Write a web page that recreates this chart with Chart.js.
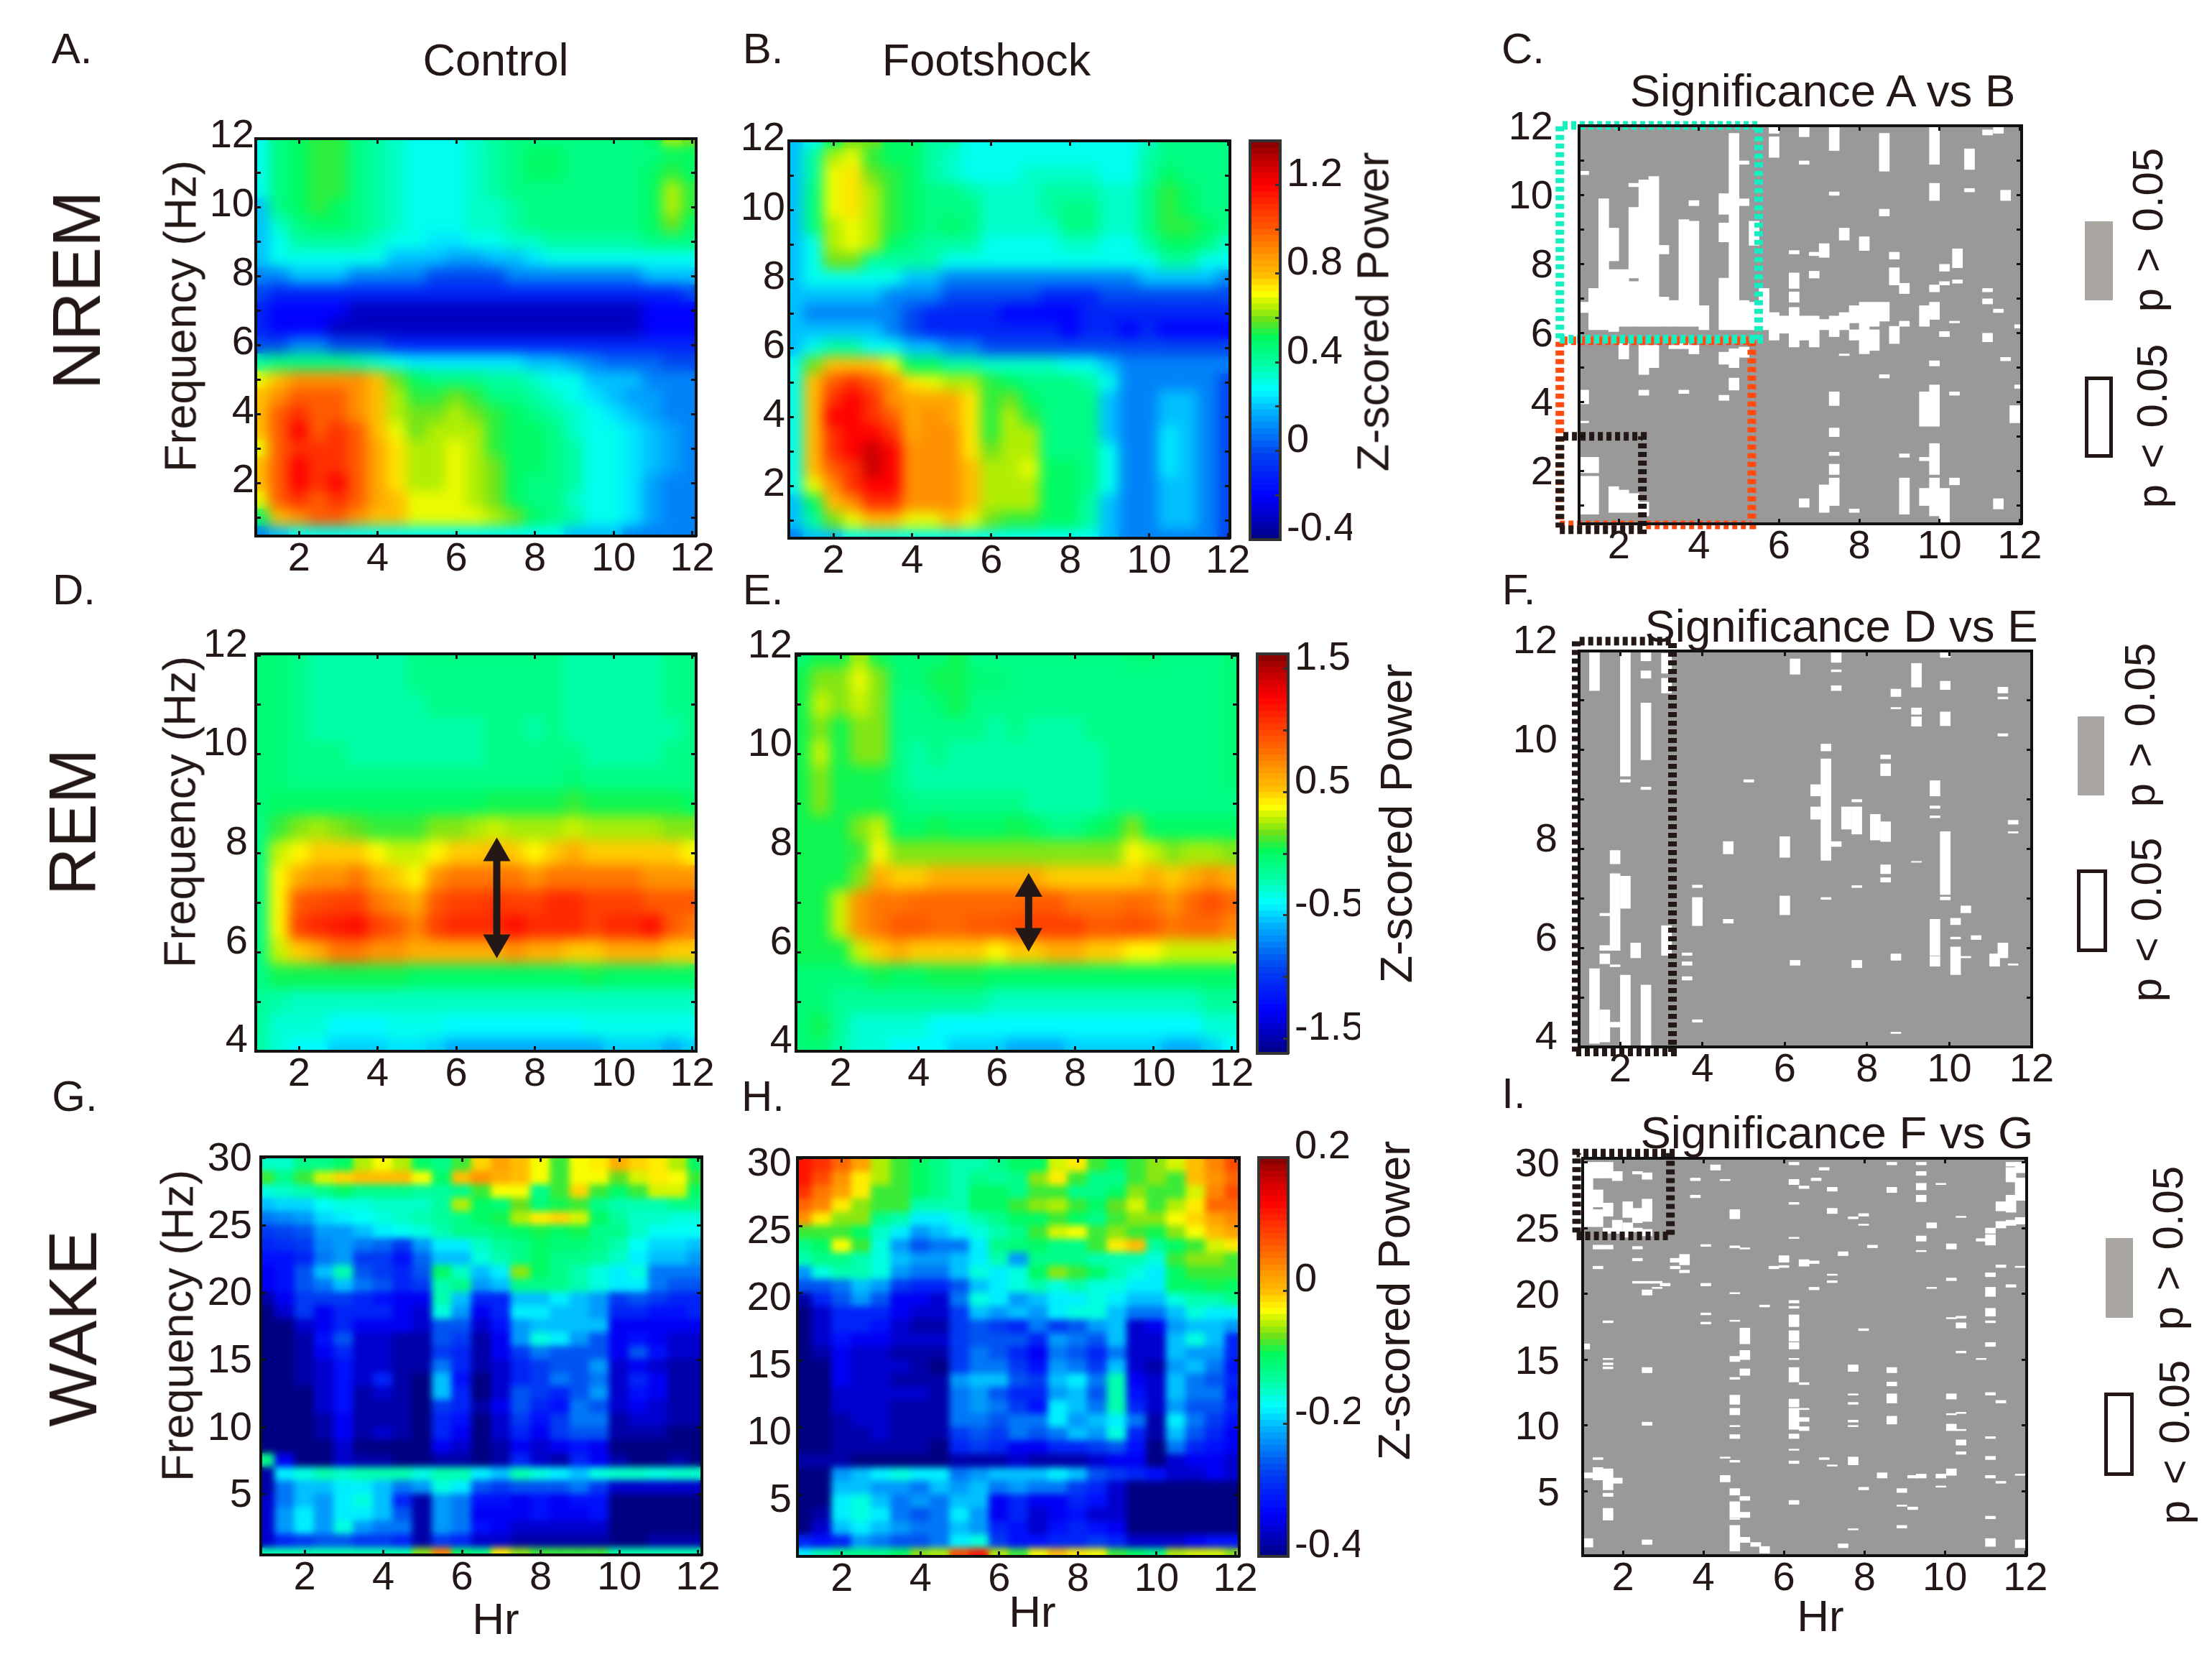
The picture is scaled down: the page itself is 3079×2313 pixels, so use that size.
<!DOCTYPE html>
<html>
<head>
<meta charset="utf-8">
<title>Z-scored power by vigilance state</title>
<script src="https://cdn.jsdelivr.net/npm/chart.js@4/dist/chart.umd.min.js"></script>
<style>
  html, body { margin: 0; background: #fff; }
  #page { position: relative; width: 3079px; height: 2313px; overflow: hidden; font-family: "Liberation Sans", Arial, sans-serif; color: #231815; }
  canvas { position: absolute; }
  .txt { position: absolute; white-space: pre; line-height: 1; transform: translate(-50%, -50%); }
  .rot { transform: translate(-50%, -50%) rotate(-90deg); }
  .key { position: absolute; box-sizing: border-box; }
</style>
</head>
<body>
<div id="page"></div>
<script>
// Axis positions of the cells
const hours = [1,1.5,2,2.5,3,3.5,4,4.5,5,5.5,6,6.5,7,7.5,8,8.5,9,9.5,10,10.5,11,11.5,12];
const nremFreqs = [12,11.5,11,10.5,10,9.5,9,8.5,8,7.5,7,6.5,6,5.5,5,4.5,4,3.5,3,2.5,2,1.5,1,0.5];
const remFreqs = [12,11.5,11,10.5,10,9.5,9,8.5,8,7.5,7,6.5,6,5.5,5,4.5,4];
const wakeFreqs = [29.5,28.5,27.5,26.5,25.5,24.5,23.5,22.5,21.5,20.5,19.5,18.5,17.5,16.5,15.5,14.5,13.5,12.5,11.5,10.5,9.5,8.5,7.5,6.5,5.5,4.5,3.5,2.5,1.5,0.5];

// Tick labels
const hourTicks = [2,4,6,8,10,12];
const nremLabels = [2,4,6,8,10,12];
const nremMarks = [1,2,3,4,5,6,7,8,9,10,11,12];
const remLabels = [4,6,8,10,12];
const remMarks = [4,5,6,7,8,9,10,11,12];
const wakeLabels = [5,10,15,20,25,30];
const nremBarTicks = [-0.4,0,0.4,0.8,1.2];
const nremBarMarks = [-0.4,-0.2,0,0.2,0.4,0.6,0.8,1,1.2];
const remBarTicks = [-1.5,-0.5,0.5,1.5];
const remBarMarks = [-1.5,-1,-0.5,0,0.5,1,1.5];
const wakeBarTicks = [-0.4,-0.2,0,0.2];
const wakeBarMarks = [-0.4,-0.2,0,0.2];

// Colour scale: position, r, g, b
const colorStops = [
[0,0,0,130],[0.11,0,0,255],[0.22,0,70,240],[0.325,0,180,255],[0.378,0,255,255],[0.437,0,255,170],[0.51,0,250,90],
[0.55,100,225,30],[0.589,190,240,0],[0.62,255,255,0],[0.665,255,190,0],[0.727,255,140,0],[0.78,255,90,0],
[0.845,255,40,0],[0.89,255,0,0],[0.957,190,0,0],[1,130,0,0]];

// NREM control, z x 10, rows from 12 Hz down
const nremControl = [
[3,4.5,5,5.5,5.5,4.5,4,3.5,3,3,3,3.5,4,4.5,4.5,4.5,4.5,4.5,4.5,4.5,5,6.5,6],
[3,4.5,5,5.5,5.5,4.5,4,3.5,3,3,3,3.5,4,4.5,5,5,4.5,4.5,4.5,4.5,4.5,5,5],
[3,4.5,5,5.5,5.5,4.5,4,3.5,3,3,3,3.5,4,4.5,5,5,4.5,4.5,4.5,4.5,5,5.5,5],
[3,4.5,5,5.5,5.5,4.5,4,3.5,3,3,3,3.5,4,4.5,4.5,4.5,4.5,4.5,4.5,4.5,5,6.5,5.5],
[2,4.5,5,5.5,5,4.5,4,3.5,3,3,3,3.5,3.5,4,4.5,4.5,4.5,4.5,4.5,4.5,5,6.5,5.5],
[2,3.5,4.5,5,5,4.5,4,3.5,3,3,3,3.5,3.5,4,4.5,4.5,4.5,4.5,4.5,4.5,5,6,5],
[2,3,4,4,4,4,3.5,3,3,2.5,2.5,3,3,3.5,3.5,4,4,4,4,4,4.5,4.5,4.5],
[2,3,3,3,3,3,3,2,2,2,1.5,1.5,2,2,2.5,3,3,3,3,3,3,3,3],
[1,1,2,2,2,1,1,1,1,0,0,0,0,1,1,1,1,1,1,1,2,2,2],
[0,-1,-1,-1,-1,-1,-1,-1,-1,-1,-1,-1,-1,-1,-1,-1,-1,-1,-1,-1,-1,-1,0],
[-1,-2,-2,-2,-2,-3,-3,-3,-3,-3,-3,-3,-3,-3,-3,-3,-3,-3,-3,-3,-2,-2,-2],
[-1,-2,-2,-2,-3,-3,-3,-3,-3,-3,-3,-3,-3,-3,-3,-3,-3,-3,-3,-3,-2,-2,-2],
[0,0,1,1,0,0,0,-1,-1,-1,-1,-1,-1,-1,-1,-1,-1,-1,-1,-1,-1,-1,-1],
[4,4.5,4.5,4.5,4.5,4,3.5,3,2.5,2.5,2.5,2.5,2.5,2.5,2,2,1.5,1,0.5,0.5,0.5,0,0],
[7,8,9,9,9,9,8,6,5,4.5,4.5,4.5,4,4,3.5,3,3,2,2,2,1,1,1],
[8,9,10,10,10,9,8,6.5,5.5,5.5,6,5.5,4.5,4.5,4,3.5,3,2.5,2,1.5,1.5,1,1],
[8,10,11,10,10,9,8,6.5,6,6,6.5,6,5.5,5,4.5,4,3.5,3,2.5,2,1.5,1,1],
[8,10,12,10,11,10,8,7,6,6.5,6.5,6.5,5.5,5,5,4.5,3.5,3,3,2.5,2,1.5,1],
[7,10,11,11,11,10,8.5,7.5,6.5,6.5,7,6.5,5.5,5,5,4.5,4,3,3,2.5,2,1.5,1],
[8,10,12,11,11,10,8.5,7.5,6.5,6.5,7,6.5,6,5,5,4.5,4,3,3,2.5,2,1.5,1],
[8,10,12,11,12,10,8.5,7.5,6.5,6.5,7,6.5,6,5,4.5,4.5,4,3,3,2.5,1.5,1,1],
[7,10,11,10,11,10,8.5,8,7,7,7,6.5,6,5,4.5,4.5,3.5,3,3,2.5,1.5,1,1],
[5,8,9,10,10,9,8,8,7,7,7,7,6.5,6,5,4.5,4,3,3,2.5,1.5,1,1],
[1,2,3,3,3,3,3,3,3,3,3,3,3,3,3,3,2,2,2,1,1,1,1]];

// NREM footshock
const nremShock = [
[2,3,5,6,6,5,5,4,4,3,3,3,3,3,3,3,3,3,3.5,4.5,4.5,4.5,4.5],
[2,4,6.5,7,5.5,5,5,4,3.5,3,3,3,3,3,3,3,3,3,4,4.5,4.5,4.5,4.5],
[2,4,7,7.5,6,5.5,5,4,3.5,3,3,3,3.5,3.5,3.5,3.5,3,3,4,5,4.5,4.5,4.5],
[2,4.5,7,7.5,6.5,5.5,5,4.5,4.5,4,3.5,3.5,3.5,4,4,4,3.5,3.5,4.5,5.5,5,4.5,4.5],
[2,4.5,7,7.5,6.5,5.5,5,4.5,4.5,4.5,3.5,3.5,3.5,4,4.5,4.5,3.5,3.5,4.5,5.5,5,4.5,4.5],
[2,4.5,6.5,7,6.5,5.5,5,4.5,5,4.5,3.5,3.5,3.5,3.5,4.5,4.5,3.5,3.5,4.5,5.5,5.5,5,4.5],
[2,3,6.5,7,6.5,5,4.5,4,4,4,3,3,3,3,3.5,3.5,3,3,4,5,5,4.5,3.5],
[2,3,6,6,4,4,4,4,3,3,3,3,3,3,3,3,3,3,3,4,4,3,3],
[2,3,3,3,3,3,2,2,1,1,1,1,1,1,1,1,1,1,2,2,2,2,1],
[2,2,2,2,2,1,1,1,0,0,0,0,0,-1,-1,-1,0,0,0,0,0,0,0],
[2,1,1,1,1,1,0,-1,-1,-1,-1,-2,-2,-2,-2,-1,-1,-1,-1,-1,-1,-1,-1],
[2,2,2,2,2,1,0,-1,-1,-1,-1,-1,-1,-1,-2,-1,-1,-2,-1,-2,-2,-2,-2],
[2,3,4,4,3,3,2,2,1,1,0,0,0,0,0,0,0,0,0,0,0,0,0],
[3,6,8,8,8,7,5,5,4,4,3.5,3.5,3.5,3.5,3,3,2,1,1,1,1,1,1],
[3,8,10,11,10,9,7.5,7,6.5,6.5,5.5,5,4.5,4.5,4.5,4,3,1,1,1,1,1,0],
[3,8,11,12,11,9,8.5,8.5,8.5,7.5,5.5,6,5,4.5,4.5,4.5,2,1,1,2,2,1,0],
[3,8,12,12,11,10,8.5,9,8.5,7.5,5.5,6.5,5.5,4.5,4.5,4.5,2,1,1,2,2,1,0],
[3,8,11,12,12,11,8.5,9,9,7.5,5.5,6.5,6.5,4.5,4.5,4.5,2,1,1,2.5,2,1,0],
[3,8,11,12,13,12,9,9,9,7.5,6,6.5,6.5,4.5,4.5,4.5,3,1,1,2.5,2,1,0],
[3,8,10,11,13,12,9,9,9,8,6.5,6.5,7,5,5,4.5,3,1,1,2.5,2,1,0],
[3,7,9,11,12,12,9,9,9,8,6.5,6.5,6.5,5,5,4.5,3,1,1,2,2,1,0],
[2,5,8,9,11,11,9,9,9,8,6.5,6.5,6.5,5,5,4,2,1,1,2,2,1,0],
[2,4,6,7,8,8,7,7,8,7,6,5.5,5.5,5,5,4,2,1,1,2,2,1,0],
[1,2,2,3,3,3,3,3,3,3,3,3,3,3,3,3,2,1,1,1,1,1,0]];

// REM control
const remControl = [
[-0.5,-0.5,-1,-2,-2,-2,-2,-2,-1,-1,-1,-1,-1,-1,-1,-1,-2,-2,-2,-2,-2,-1,-1],
[-0.5,-0.5,-1,-2,-2,-2,-2,-2,-1,-1,-1,-1,-1,-1,-1,-1,-2,-2,-2,-2,-2,-1,-1],
[-0.5,-0.5,-1,-2,-2,-2,-2,-2,-2,-1,-1,-1,-1,-1,-1,-1,-2,-2,-2,-2,-2,-1,-1],
[-0.5,-0.5,-1,-2,-2,-2,-2,-2,-2,-2,-2,-2,-1,-1,-2,-1,-2,-2,-2,-2,-2,-2,-1],
[-0.5,-0.5,-1,-1,-1,-2,-2,-2,-2,-2,-2,-2,-1,-1,-1,-1,-1,-2,-2,-2,-2,-1,-1],
[-0.5,-0.5,-1,-1,-1,-1,-1,-1,-1,-1,-1,-1,-1,-1,-1,-1,-0.5,-1,-1,-1,-1,-1,-1],
[-0.5,0,0,0,0,0,0,0,0,0,0,0,0.5,0.5,0.5,0.5,1,0.5,0.5,0.5,0.5,0.5,0],
[-1,1,2,2.5,2,1.5,1,1,1,2,2,2.5,3,2.5,2.5,2.5,3,2.5,2.5,2.5,2.5,2,2],
[-1,3,4,5,5,5,4,3,3,4,5,5,5.5,5,4,5,6,5,5,5,5,5,4],
[-1,4,6,7,7,8,6,5,4,7,8,8,8,8,7,8,8,8,8,8,7,7,7],
[-1,4,9,9.5,10,10,8,7,6,9,10,10,10.5,10,10,11,11,10,10,10,9,9,9],
[-1,4,10,11,11.5,12,10,9,7.5,10,11,11,11,12,11,11,11,10,11,11,12,9,8],
[-1,3,5,6,8,8,7,7,6,6,6,6,6,7,6,6,5,5,6,6,6,5,5],
[-1,0.5,0.5,0.5,0.5,0.5,0.5,0.5,0,0,0,0,0,0,0,0,0,0.5,0,0,0,0,0],
[-1.5,-2,-2.5,-2.5,-2.5,-2.5,-2.5,-2.5,-2.5,-2.5,-2.5,-2.5,-2.5,-2.5,-2.5,-2.5,-2.5,-2.5,-2.5,-2.5,-2.5,-2.5,-2.5],
[-1.5,-3,-3,-3,-4,-4,-4,-3.5,-3.5,-3.5,-4,-4,-4,-4,-4,-4,-4,-3.5,-3.5,-3.5,-3.5,-3.5,-3.5],
[-2,-3,-4,-4,-5,-5,-5,-4.5,-4.5,-5,-6,-6,-6,-6,-6,-6,-6,-6,-5,-5,-5,-6,-5]];

// REM footshock
const remShock = [
[-0.5,0.5,0.5,2.5,0.5,-0.5,-0.5,-0.5,0.5,-1,-1,-1,-1,-1,-1,-1,-1,-0.5,-0.5,-1,-1,-1,-0.5],
[0.5,2,2,3.5,2,-0.5,-0.5,0.5,0.5,-0.5,-0.5,-1,-1,-1,-1,-1,-1,-1,-1,-1,-1,-1,-0.5],
[0.5,3,2,3,2,-1,-1,-0.5,0.5,-1,-1,-1,-1,-1,-1,-1,-1,-1,-1,-1,-1,-1,-0.5],
[0.5,2,0.5,2,2,-1,-1,-1,-1,-1,-2,-1,-2,-2,-2,-1,-1,-1,-1,-1,-1,-1,-0.5],
[0.5,3,0.5,2,2,-1,-2,-1,-2,-2,-2,-2,-2,-2,-2,-2,-1,-1,-1,-1,-1,-1,-0.5],
[0.5,2,0.5,0.5,0.5,-1,-2,-2,-2,-2,-2,-2,-2,-2,-2,-2,-1,-1,-1,-1,-1,-1,-0.5],
[0.5,2,0.5,0.5,0.5,-0.5,-1,-1,-1,-1,-1,-1,-2,-2,-2,-2,-1,-1,-1,-1,-1,-1,-1],
[0.5,0.5,0.5,2,3,0,0,0.5,0,0,0,0.5,0,-1,-1,0,0.5,2,0,0,0,0,0],
[0.5,0.5,0.5,1,4,2,2,2,2,2,2,2,2,2,2,2,2,4,3,2,2.5,2.5,2],
[0.5,0.5,0.5,2,6,5,5,6,6,6,6,6,6,5,5,5,5,5,6,5,6,7,6],
[0.5,0.5,3,7,8,8,8.5,8.5,8.5,8.5,8.5,8.5,9,9,8,8,8,8.5,8,7,8.5,9.5,8.5],
[0.5,0.5,3,7,8,9,9,8.5,8.5,9,9,9.5,10,10,10,9,9,9.5,9,8,8.5,8.5,7.5],
[0.5,0.5,0.5,3,5,6,5,5,5,5,4,5,5,6,6,5,5,4,4,3,3,3,3],
[-0.5,-0.5,-0.5,-0.5,0.5,0,0,0.5,0.5,0.5,0,0,0,0,0,0,0,0,0,0,0,0,0],
[-0.5,-0.5,-1.5,-1.5,-1.5,-1.5,-1.5,-1.5,-1.5,-1.5,-2.5,-2.5,-2.5,-2.5,-2.5,-2.5,-2.5,-2.5,-2.5,-2.5,-2.5,-1.5,-1.5],
[-0.5,0.5,-1.5,-3,-3,-3,-3,-4,-4,-4,-4,-4,-4,-4,-4,-4,-4,-4,-4,-4,-4,-3,-3],
[-0.5,-0.5,-2,-3,-3,-4,-4,-4,-5,-5,-5,-6,-6,-6,-5,-5,-5,-5,-5,-6,-6,-5,-4]];

// WAKE control, z x 100, rows from 29.5 Hz down
const wakeControl = [
[-15,-15,-12,-12,-10,-5,-3,-5,-10,-12,-8,-1,2,0,-3,-8,-3,-2,1,-1,-2,-5,-10],
[-8,-12,-8,-4,-1,0,0,0,-3,-10,0,3,1,0,-3,-8,-3,-3,-7,-4,-2,-3,-8],
[-16,-15,-14,-12,-10,-12,-12,-12,-13,-13,-12,-8,-3,-3,-12,-8,-1,-8,-10,-8,-4,-4,-10],
[-20,-19,-19,-17,-16,-16,-15,-15,-15,-13,-5,-10,-11,-7,-11,-9,-8,-12,-14,-14,-14,-12,-12],
[-24,-23,-22,-19,-18,-17,-16,-15,-14,-13,-12,-10,-9,-5,-2,-1,-4,-10,-13,-15,-15,-16,-16],
[-28,-27,-26,-22,-22,-20,-18,-17,-16,-14,-12,-12,-11,-10,-9,-10,-9,-12,-12,-15,-17,-17,-17],
[-30,-29,-28,-23,-22,-24,-25,-28,-22,-18,-18,-15,-13,-12,-10,-11,-11,-12,-14,-17,-19,-19,-20],
[-32,-32,-30,-24,-22,-28,-28,-32,-25,-20,-20,-16,-14,-12,-10,-12,-12,-13,-15,-18,-20,-20,-22],
[-34,-32,-26,-20,-14,-26,-28,-30,-26,-10,-15,-20,-18,-6,-10,-12,-14,-16,-18,-16,-24,-24,-24],
[-34,-32,-26,-24,-20,-24,-26,-30,-28,-14,-12,-22,-20,-12,-12,-12,-14,-16,-18,-18,-24,-26,-26],
[-38,-34,-28,-28,-28,-30,-32,-34,-34,-14,-20,-30,-30,-20,-20,-18,-20,-22,-28,-26,-28,-30,-30],
[-40,-36,-28,-34,-30,-30,-30,-34,-36,-16,-22,-34,-30,-18,-18,-20,-20,-22,-30,-30,-32,-32,-30],
[-40,-40,-36,-34,-30,-34,-34,-34,-36,-26,-26,-36,-32,-22,-20,-20,-20,-20,-34,-34,-34,-34,-34],
[-40,-40,-38,-32,-26,-36,-36,-38,-38,-26,-28,-38,-34,-22,-16,-18,-22,-26,-34,-32,-34,-36,-36],
[-40,-40,-38,-34,-30,-36,-36,-38,-38,-28,-30,-38,-34,-28,-24,-26,-26,-26,-34,-26,-32,-36,-36],
[-40,-40,-38,-36,-32,-36,-36,-38,-38,-24,-30,-38,-36,-30,-28,-26,-26,-22,-36,-34,-36,-38,-38],
[-40,-40,-38,-36,-32,-36,-30,-38,-40,-20,-32,-40,-36,-30,-28,-24,-26,-24,-36,-30,-34,-38,-38],
[-40,-40,-40,-36,-32,-38,-36,-38,-40,-20,-30,-40,-36,-26,-28,-30,-26,-22,-36,-32,-34,-38,-38],
[-40,-40,-40,-36,-32,-38,-38,-38,-40,-28,-30,-38,-34,-26,-30,-32,-24,-26,-36,-34,-36,-38,-38],
[-40,-40,-40,-38,-34,-38,-38,-38,-40,-30,-32,-40,-36,-28,-32,-28,-24,-24,-38,-36,-36,-38,-38],
[-40,-40,-40,-38,-34,-38,-36,-38,-40,-30,-34,-40,-36,-30,-34,-28,-26,-26,-38,-38,-38,-40,-40],
[-40,-40,-40,-40,-36,-40,-40,-40,-40,-34,-36,-40,-38,-34,-36,-34,-32,-34,-40,-40,-40,-40,-40],
[-12,-34,-40,-40,-36,-38,-38,-40,-40,-38,-38,-40,-38,-30,-36,-38,-30,-34,-38,-40,-40,-38,-40],
[-38,-18,-16,-14,-15,-14,-14,-14,-16,-14,-14,-18,-20,-14,-16,-18,-20,-16,-15,-15,-16,-15,-15],
[-38,-24,-20,-20,-18,-18,-20,-24,-22,-16,-18,-26,-28,-26,-26,-26,-24,-28,-36,-36,-36,-36,-36],
[-36,-24,-20,-22,-18,-16,-20,-30,-38,-22,-24,-32,-32,-34,-32,-34,-32,-32,-40,-40,-40,-40,-40],
[-36,-22,-18,-22,-18,-18,-20,-26,-38,-22,-24,-34,-34,-34,-32,-34,-34,-32,-40,-40,-40,-40,-40],
[-36,-22,-18,-22,-16,-22,-24,-24,-38,-22,-24,-32,-34,-36,-36,-36,-36,-36,-40,-40,-40,-40,-40],
[-36,-30,-28,-26,-26,-28,-28,-30,-38,-28,-30,-36,-36,-38,-38,-38,-38,-38,-40,-40,-38,-38,-38],
[-14,-14,-14,-14,-14,-14,-14,-14,-6,4,-10,-12,-2,-6,-8,-8,-8,-8,-14,-14,-14,-14,-14]];

// WAKE footshock
const wakeShock = [
[12,10,6,2,-5,-8,-10,-12,-14,-14,-12,-10,-10,-4,-2,-8,-10,-8,-6,-4,0,4,8],
[12,8,3,-2,-5,-8,-10,-12,-14,-12,-13,-12,-6,-2,-8,-12,-12,-8,-6,-8,0,3,6],
[10,5,2,-2,-8,-8,-10,-12,-14,-10,-10,-12,-8,-8,-12,-12,-10,-6,-8,-8,-4,4,8],
[6,4,-2,-6,-8,-8,-14,-14,-14,-10,-10,-8,-6,-5,-8,-10,-7,-4,-8,-5,-2,6,6],
[3,-2,-6,-6,-12,-14,-18,-18,-16,-14,-12,-10,-10,-8,-10,-12,-8,-6,-6,-3,-1,2,4],
[-8,-8,-8,-10,-15,-18,-22,-20,-18,-16,-14,-12,-8,-4,-3,-8,-6,-8,-9,-6,-3,0,2],
[-12,-10,-3,-8,-16,-22,-26,-24,-24,-18,-12,-11,-10,-12,-12,-8,-2,0,-13,-10,-8,-4,-2],
[-14,-12,-12,-14,-16,-20,-22,-22,-20,-18,-14,-22,-12,-12,-12,-14,-14,-14,-16,-8,-6,-6,-8],
[-22,-16,-14,-14,-16,-22,-24,-24,-20,-16,-18,-16,-10,-6,-8,-10,-14,-16,-18,-10,-8,-8,-8],
[-26,-26,-24,-20,-22,-28,-30,-30,-26,-20,-18,-16,-14,-16,-14,-16,-16,-18,-18,-10,-10,-9,-10],
[-38,-30,-26,-22,-26,-34,-34,-36,-24,-16,-18,-22,-20,-18,-18,-16,-18,-20,-20,-16,-14,-14,-12],
[-40,-36,-30,-30,-30,-34,-36,-36,-28,-20,-22,-20,-22,-18,-16,-16,-20,-24,-24,-20,-16,-18,-18],
[-40,-36,-30,-30,-32,-36,-38,-38,-28,-26,-28,-30,-24,-28,-26,-22,-20,-36,-34,-22,-20,-20,-22],
[-40,-36,-32,-34,-34,-36,-36,-36,-28,-26,-26,-26,-30,-22,-24,-26,-20,-36,-36,-20,-16,-20,-30],
[-40,-38,-34,-36,-36,-38,-38,-38,-28,-24,-26,-30,-34,-24,-26,-30,-24,-36,-36,-20,-22,-22,-30],
[-40,-40,-34,-36,-36,-36,-38,-40,-28,-24,-24,-28,-32,-22,-24,-28,-20,-36,-38,-22,-20,-24,-32],
[-40,-40,-34,-36,-36,-38,-38,-38,-22,-20,-20,-26,-28,-20,-18,-24,-14,-34,-36,-20,-24,-26,-30],
[-40,-40,-36,-36,-36,-36,-36,-38,-24,-22,-26,-30,-30,-22,-20,-26,-14,-32,-36,-20,-24,-24,-32],
[-40,-40,-36,-36,-36,-38,-38,-38,-24,-22,-24,-28,-32,-18,-20,-24,-14,-30,-36,-22,-26,-26,-30],
[-40,-40,-38,-36,-36,-38,-38,-38,-24,-24,-26,-24,-24,-18,-22,-20,-18,-24,-38,-18,-24,-28,-32],
[-40,-40,-38,-38,-36,-38,-38,-38,-28,-26,-28,-24,-26,-24,-20,-22,-16,-30,-38,-20,-26,-30,-34],
[-40,-40,-38,-38,-38,-38,-38,-40,-30,-28,-30,-34,-34,-30,-30,-28,-26,-32,-40,-24,-30,-32,-34],
[-38,-38,-38,-40,-40,-40,-40,-40,-38,-38,-38,-36,-38,-38,-38,-36,-34,-34,-40,-36,-34,-34,-36],
[-40,-40,-22,-20,-18,-16,-18,-18,-24,-22,-20,-20,-20,-18,-20,-26,-28,-30,-32,-36,-36,-34,-36],
[-40,-40,-20,-20,-22,-22,-24,-20,-22,-20,-24,-22,-24,-24,-28,-30,-36,-40,-40,-40,-40,-40,-40],
[-40,-40,-18,-16,-20,-24,-22,-24,-20,-20,-34,-30,-34,-34,-30,-32,-36,-40,-40,-40,-40,-40,-40],
[-40,-38,-18,-16,-18,-24,-26,-24,-18,-22,-34,-30,-36,-34,-32,-36,-36,-40,-40,-40,-40,-40,-40],
[-40,-36,-20,-18,-20,-22,-24,-24,-20,-22,-30,-32,-36,-32,-30,-32,-34,-40,-40,-40,-40,-40,-40],
[-30,-32,-30,-22,-24,-26,-26,-24,-18,-16,-28,-32,-32,-30,-30,-28,-30,-36,-36,-36,-34,-32,-32],
[-18,-14,-12,-12,-12,-10,-6,-5,8,12,-5,-8,-3,0,-2,-3,-8,-10,-12,-5,-4,-4,-6]];

// Significant cells (p < 0.05): hour, low Hz, high Hz
const sigAvsB = [
[1.125,10.6,10.7],[1.125,6.6,6.9],[1.125,3.95,4.35],[1.125,3.4,3.45],[1.125,1.95,2.4],[1.125,0.75,1.85],
[1.375,6.1,7.3],[1.375,1.95,2.4],[1.375,0.75,1.85],[1.625,6.1,9.9],
[1.875,6.05,7.85],[1.875,8.1,9.05],[1.875,0.8,1.55],[2.125,6.2,7.85],[2.125,0.8,1.45],[2.125,5.25,5.7],
[2.375,6.2,7.5],[2.375,7.6,9.65],[2.375,10.25,10.35],[2.375,0.8,1.35],
[2.625,6.2,10.45],[2.625,4.8,5.65],[2.625,4.2,4.35],[2.625,0.7,1.1],[2.875,6.2,10.55],[2.875,5,5.65],
[3.125,8.3,8.55],[3.125,6.2,7.05],[3.375,6.2,6.95],[3.375,5.55,5.65],
[3.625,6.2,9.3],[3.625,4.25,4.35],[3.625,5.55,5.7],[3.875,6.2,9.25],[3.875,9.7,9.85],[3.875,5.4,5.65],
[4.125,6.1,6.8],[4.625,6.1,7.6],[4.625,8.65,9.2],[4.625,9.45,10.05],[4.625,5.1,5.45],[4.625,4.05,4.2],
[4.875,6.1,11.8],[4.875,5,5.55],[4.875,4.35,4.7],[5.125,6.1,6.95],[5.125,9.7,9.9],[5.125,10.9,11],[5.125,5.3,5.6],
[5.375,8.55,9.25],[5.375,6.1,6.9],[5.625,6.1,7.3],[5.875,5.8,6.6],[5.875,11.1,11.7],[5.875,11.8,12],
[6.125,6,6.5],[6.375,5.6,6.75],[6.375,8.3,8.4],[6.375,7.3,7.75],[6.375,6.9,7.2],
[6.625,11.7,12],[6.625,10.9,11],[6.625,5.8,6.5],[6.625,0.95,1.2],[6.875,5.6,6.5],[6.875,7.6,7.8],[6.875,8.25,8.35],
[7.125,8.2,8.6],[7.125,6.1,6.4],[7.125,0.8,1.6],
[7.375,11.3,12],[7.375,10,10.1],[7.375,5.9,6.5],[7.375,3.9,4.3],[7.375,3,3.25],[7.375,2.45,2.55],[7.375,1.9,2.2],[7.375,1,1.8],
[7.625,6.1,6.6],[7.625,8.7,9.05],[7.625,5.35,5.4],[7.875,5.8,6.1],[7.875,6.3,6.8],[7.875,0.8,0.9],
[8.125,5.4,6.9],[8.125,8.4,8.8],[8.375,5.5,6.1],[8.375,6.2,6.9],[8.625,6.35,6.9],[8.625,9.4,9.6],[8.625,10.7,11.8],[8.625,4.7,4.8],
[8.875,5.7,6.2],[8.875,7.4,7.9],[8.875,8.15,8.35],[9.125,6.2,6.35],[9.125,7.15,7.45],[9.125,2.4,2.5],[9.125,0.75,1.8],
[9.625,6.2,6.8],[9.625,3.3,4.3],[9.625,2.3,2.4],[9.625,1,1.5],
[9.875,6.4,6.9],[9.875,7.2,7.4],[9.875,9.85,10.35],[9.875,10.9,12],[9.875,5.05,5.2],[9.875,3.3,4.5],[9.875,1.9,2.8],[9.875,0.7,1.8],
[10.125,7.4,7.5],[10.125,7.8,8],[10.125,5.9,6.05],[10.125,0.5,1.5],[10.375,1.6,1.8],[10.375,6.3,6.35],[10.375,4.2,4.3],
[10.45,7.45,7.55],[10.45,7.9,8.45],[10.75,10.75,11.35],[10.75,10.1,10.2],[11.2,11.75,11.9],[11.2,7.2,7.3],[11.2,6.85,7],[11.2,5.75,6],
[11.47,11.8,12],[11.47,6.6,6.7],[11.47,0.9,1.2],[11.65,9.85,10.15],[11.65,5.2,5.3],[11.88,3.4,3.9],[12,4.4,4.5],[12,6.15,6.25]];

const sigDvsE = [
[1.375,11.2,12],[1.375,4.07,5.58],[1.625,5.68,5.88],[1.625,4.1,4.75],[1.625,6.65,6.7],[1.625,5.95,6.05],
[1.875,7.7,7.97],[1.875,5.95,7.5],[1.875,4.4,4.5],[1.875,5.62,5.66],[2.125,9.47,12],[2.125,9.35,9.4],[2.125,6.8,7.45],[2.125,4,5.45],
[2.375,5.8,6.1],[2.625,9.8,10.95],[2.625,11.8,12],[2.625,11.45,11.6],[2.625,4,5.25],[2.625,9.2,9.25],
[3.125,11.55,11.95],[3.125,11.15,11.45],[3.125,5.85,6.45],[3.625,5.85,5.9],[3.625,5.65,5.72],[3.625,5.35,5.42],
[3.875,6.45,7.02],[3.875,7.22,7.27],[3.875,4.5,4.55],[4.625,7.9,8.15],[4.625,6.5,6.58],[5.125,9.35,9.4],
[6,7.83,8.25],[6,6.67,7.05],[6.25,11.53,11.84],[6.25,5.65,5.75],[6.75,9.07,9.3],[6.75,8.6,8.85],
[7,7.77,9.82],[7,6.98,7.02],[7,9.98,10.12],[7.25,11.77,12],[7.25,11.58,11.62],[7.25,11.2,11.3],[7.25,8.05,8.15],
[7.5,8.4,8.85],[7.75,8.3,8.85],[7.75,7.22,7.26],[7.75,5.6,5.75],[7.75,8.95,9],
[8.2,8.18,8.7],[8.45,8.15,8.55],[8.45,9.82,9.9],[8.45,9.48,9.72],[8.45,7.5,7.68],[8.45,7.33,7.42],
[8.7,11.08,11.23],[8.7,10.83,10.86],[8.7,5.75,5.88],[8.7,4.27,4.3],[9.2,11.27,11.75],[9.2,10.72,10.85],[9.2,10.48,10.67],[9.2,7.73,7.75],
[9.65,9.07,9.38],[9.65,8.82,8.87],[9.65,8.63,8.67],[9.65,5.85,6.58],[9.65,5.63,5.83],
[9.9,11.87,12],[9.9,11.22,11.39],[9.9,10.49,10.77],[9.9,7.08,8.35],[9.9,6.97,7.03],
[10.15,6.47,6.6],[10.15,6.18,6.22],[10.15,5.46,6.02],[10.4,6.71,6.85],[10.4,5.8,5.83],[10.65,6.17,6.25],
[11.1,5.63,5.88],[11.3,11.15,11.27],[11.3,11.03,11.07],[11.3,10.28,10.33],[11.3,5.8,6.1],[11.55,8.5,8.58],[11.55,8.32,8.35],[11.55,5.65,5.68]];

const sigFvsG = [
[1.13,25.1,30],[1.38,28.8,30],[1.38,26.6,27.9],[1.38,25.1,26.4],[1.63,28.8,30],[1.63,25.9,26.9],[1.63,24.6,25],[1.86,28.6,29.3],[1.86,24.6,25.6],
[2.12,25.8,27],[2.12,24.3,25.4],[2.36,25.4,26.5],[2.36,29.1,29.3],[2.36,24.7,25],[2.6,25.5,27.2],[2.6,28.7,29.2],[2.6,24.4,24.9],
[1.38,23.4,23.7],[1.63,23.4,23.7],[2.36,23.4,23.6],[2.36,22.5,22.7],[1.38,21.9,22.1],
[3.3,22.4,22.7],[3.3,21.9,22.1],[3.53,22.2,23],[3.53,21.6,21.8],[3.8,28.6,28.8],[3.8,27.3,27.5],[4.3,29.4,29.8],[4.54,28.6,28.7],
[2.36,20.8,20.95],[2.6,20.8,20.95],[2.85,20.8,20.95],[2.6,19.9,20.3],[2.85,20.4,20.5],[3.05,20.6,20.8],
[4.06,20.6,20.8],[4.06,18.4,18.55],[4.06,17.7,17.85],[4.06,23.6,23.75],[1.63,17.8,17.95],
[1.05,15.8,16.2],[1.63,15,15.1],[1.63,14.6,14.75],[1.63,14.3,14.45],[2.6,14,14.4],[2.6,10,10.25],
[1.13,6,6.4],[1.38,5.85,6.8],[1.63,5.1,6.7],[1.86,5.6,6],[1.63,4.6,4.85],[1.63,2.8,3.7],[1.13,0.75,1.4],[2.6,0.95,1.3],[1.38,7.4,7.55],
[4.78,25.7,26.2],[4.78,26.2,26.4],[4.78,23.5,23.65],[4.78,20,20.1],[4.78,17.9,18],[4.78,14.85,15.25],[4.78,13.5,13.65],[4.78,11.6,12.3],[4.78,10.8,11.3],[4.78,9.9,10],[4.78,9,9.3],[4.78,7.2,7.35],[4.78,4.7,5.2],[4.78,3,4.2],[4.78,2.85,2.95],[4.78,0.45,2.4],
[5.03,16.2,17.4],[5.03,15,15.7],[5.03,13.8,14.3],[5.03,4.3,4.6],[5.03,3,3.4],[5.03,1.1,1.5],[5.03,23.4,23.5],[4.54,7.5,7.6],[4.54,5.7,6.2],[5.3,0.8,1.1],[5.52,0.3,0.8],[5.52,19,19.15],[5.75,21.9,22.1],[6,22.4,22.9],[6,22,22.15],
[6.25,29.8,30],[6.25,28.3,28.7],[6.25,26.8,26.95],[6.25,24.2,24.3],[6.25,19.3,19.5],[6.25,18.9,19.05],[6.25,17.5,18.4],[6.25,16.4,17.2],[6.25,15.8,16.3],[6.25,15,15.1],[6.25,13.3,14.4],[6.25,11.4,12],[6.25,9.7,11.3],[6.25,9,9.35],[6.25,8.1,8.2],[6.25,7.1,7.3],[6.25,4,4.3],
[6.5,13.1,13.25],[6.5,11.2,11.3],[6.5,10.3,10.6],[6.5,9.6,9.9],[6.5,28,28.2],[6.5,22.1,22.6],[6.75,22.3,22.5],[6.75,20.3,20.5],[6.8,28.6,28.8],
[7,29.4,29.6],[7,7.4,7.55],[7.2,27.8,28.1],[7.2,26.1,26.5],[7.2,21.4,21.5],[7.2,20.85,21],[7.2,6.9,7],[7.47,22.9,23.2],[7.47,0.7,1],
[7.72,25.7,25.85],[7.72,14.1,14.6],[7.72,12.3,12.4],[7.72,11.6,11.75],[7.72,10.25,10.4],[7.72,9.9,10],[7.72,7,7.6],[7.72,2.05,2.15],
[7.98,25.9,26.1],[7.98,25.2,25.3],[7.98,17.2,17.35],[7.98,5.1,5.3],[8.2,23.5,23.7],[8.44,6,6.4],
[8.68,29.8,30],[8.68,27.7,28.1],[8.68,14,14.4],[8.68,13,13.3],[8.68,11.7,12.4],[8.68,10.1,10.7],[8.93,4.9,5.2],[8.93,3.85,3.95],[8.93,2.2,2.4],[9.2,3.6,3.8],[9.2,6,6.2],
[9.41,29.8,30],[9.41,29,29.3],[9.41,27.9,28.4],[9.41,27,27.5],[9.41,24,24.4],[9.41,23.2,23.3],[9.41,6,6.3],[9.67,25,25.4],[9.67,20.4,20.5],[9.9,28.3,28.4],[9.9,6,6.3],[9.9,5.3,5.4],
[10.16,23.4,23.8],[10.16,21,21.2],[10.16,18.1,18.2],[10.16,12,12.4],[10.16,9.6,10.1],[10.16,10.8,10.9],[10.16,6.2,6.7],
[10.4,25.8,25.9],[10.4,17.4,17.8],[10.4,18.15,18.3],[10.4,15.5,15.65],[10.4,9.6,9.7],[10.4,8.5,8.9],[10.4,7.8,8],[10.4,10.9,11],[10.9,15,15.1],[10.9,24,24.2],
[11.13,23.7,24.5],[11.13,24.6,25],[11.13,21.3,21.6],[11.13,19.8,20.5],[11.13,18.3,18.9],[11.13,17.8,17.95],[11.13,16,16.3],[11.13,12.3,12.5],[11.13,9,9.15],[11.13,7.4,7.65],[11.13,6,6.2],[11.13,2.9,3.1],[11.13,0.8,1.4],
[11.39,26.3,27],[11.39,25,25.5],[11.39,22,22.2],[11.39,11.7,11.9],[11.39,5.6,5.75],[11.64,26.2,27.5],[11.64,28.5,29.6],[11.64,25.2,25.6],[11.87,25.3,25.8],[11.87,27.1,28.8],[11.87,29.2,30],[11.87,0.7,1.3],[11.64,29.7,30],[11.87,22,22.1],[11.64,20.5,20.7],[11.87,6.2,6.3]];

const INK = '#231815';
const PAD = { left: 220, right: 100, top: 100, bottom: 120 };

Chart.defaults.font.family = '"Liberation Sans", Arial, sans-serif';
Chart.defaults.font.size = 56;
Chart.defaults.color = INK;

const page = document.getElementById('page');

// Looks a position 0..1 up in the colour bar stops
function jet(p) {
  const t = Math.max(0, Math.min(1, p));
  let i = 1;
  while (i < colorStops.length - 1 && colorStops[i][0] < t) i++;
  const a = colorStops[i - 1], b = colorStops[i];
  const f = (t - a[0]) / (b[0] - a[0]);
  const c = k => Math.round(a[k] + (b[k] - a[k]) * f);
  return `rgb(${c(1)},${c(2)},${c(3)})`;
}

// Smooths the drawn cells and paints the grey ground of the significance maps
const cellPlugin = {
  id: 'cells',
  beforeDatasetsDraw(chart, args, opts) {
    if (!opts.ground) return;
    const a = chart.chartArea;
    chart.ctx.fillStyle = opts.ground;
    chart.ctx.fillRect(a.left, a.top, a.width, a.height);
  },
  afterDatasetDraw(chart, args, opts) {
    if (!opts.blur || args.meta.type !== 'bar') return;
    const a = chart.chartArea, ctx = chart.ctx;
    ctx.save();
    ctx.beginPath();
    ctx.rect(a.left, a.top, a.width, a.height);
    ctx.clip();
    ctx.filter = `blur(${opts.blur}px)`;
    ctx.drawImage(chart.canvas, a.left, a.top, a.width, a.height, a.left, a.top, a.width, a.height);
    ctx.restore();
  }
};

function fixedSize(size) {
  return s => { if (s.isHorizontal()) s.height = size; else s.width = size; };
}
function setTicks(values) {
  return s => { s.ticks = values.map(value => ({ value })); };
}

// Frame side: draws border and inward tick marks, and optional labels
function frameAxis(axis, position, min, max, marks, size, labelled, lineColor) {
  const color = lineColor || '#111';
  return {
    type: 'linear', axis, position, min, max, offset: false,
    afterBuildTicks: setTicks(marks), afterFit: fixedSize(size),
    border: { display: true, color, width: 4, z: 3 },
    grid: { display: true, offset: false, drawOnChartArea: false, drawTicks: true, tickLength: -7, tickWidth: 3, tickColor: color, z: 3 },
    ticks: { display: !!labelled, autoSkip: false, maxRotation: 0, minRotation: 0, padding: 6, z: 3,
      callback: v => (labelled && labelled.includes(v)) ? String(v) : '' },
    weight: 0
  };
}

// Label-only axis; its range is moved so labels sit `shift` px above their ticks
function textAxis(position, min, max, labels, plotH, shift, gap, size) {
  const d = shift / plotH * (max - min);
  return {
    type: 'linear', axis: 'y', position, min: min - d, max: max - d,
    afterBuildTicks: setTicks(labels), afterFit: fixedSize(size),
    border: { display: false },
    grid: { display: false, drawTicks: false, drawOnChartArea: false },
    ticks: { autoSkip: false, padding: gap, callback: v => String(v) },
    weight: 1
  };
}

function makeChart(p, datasets, scales, pluginOpts, padding) {
  const w = p.right - p.left, h = p.bottom - p.top;
  const cv = document.createElement('canvas');
  cv.style.left = (p.left - PAD.left) + 'px';
  cv.style.top = (p.top - PAD.top) + 'px';
  cv.width = w + PAD.left + PAD.right;
  cv.height = h + PAD.top + PAD.bottom;
  page.appendChild(cv);
  return new Chart(cv, {
    type: 'bar',
    data: { datasets },
    plugins: [cellPlugin],
    options: {
      responsive: false, animation: false, devicePixelRatio: 1, events: [],
      layout: { padding },
      plugins: { legend: { display: false }, tooltip: { enabled: false }, title: { display: false }, cells: pluginOpts },
      scales
    }
  });
}

function panelScales(p) {
  const h = p.bottom - p.top;
  return {
    x: frameAxis('x', 'bottom', p.xMin, p.xMax, hourTicks, PAD.bottom, hourTicks),
    xTop: frameAxis('x', 'top', p.xMin, p.xMax, hourTicks, 0),
    y: frameAxis('y', 'left', p.yMin, p.yMax, p.marks, 0),
    yRight: frameAxis('y', 'right', p.yMin, p.yMax, p.marks, 0),
    yText: textAxis('left', p.yMin, p.yMax, p.labels, h, p.shift, p.gap, PAD.left)
  };
}

const PANEL_PADDING = { top: PAD.top, right: PAD.right, left: 0, bottom: 0 };

function heatPanel(p, rows, freqs, unit, zMin, zMax, blur, arrow) {
  const half = (freqs[0] - freqs[1]) / 2;
  const cells = [], colors = [];
  rows.forEach((row, r) => row.forEach((v, c) => {
    cells.push({ x: hours[c], y: [freqs[r] - half, freqs[r] + half] });
    colors.push(jet((v * unit - zMin) / (zMax - zMin)));
  }));
  const datasets = [{ data: cells, backgroundColor: colors, borderWidth: 0, inflateAmount: 1,
    barPercentage: 1, categoryPercentage: 1, clip: 0, order: 2, xAxisID: 'x', yAxisID: 'y' }];
  if (arrow) {
    datasets.push({ type: 'line', data: [{ x: arrow.hr, y: arrow.from }, { x: arrow.hr, y: arrow.to }],
      borderColor: INK, borderWidth: 10, pointStyle: 'triangle', pointRadius: 22, pointRotation: [180, 0],
      pointBackgroundColor: INK, pointBorderWidth: 0, clip: false, order: 1, xAxisID: 'x', yAxisID: 'y' });
  }
  makeChart(p, datasets, panelScales(p), { blur }, PANEL_PADDING);
}

function sigPanel(p, marks, boxes) {
  const datasets = [{ data: marks.map(m => ({ x: m[0], y: [m[1], m[2]] })), backgroundColor: '#fff', borderWidth: 0,
    barThickness: 14, clip: 0, order: 5, xAxisID: 'x', yAxisID: 'y' }];
  boxes.forEach((b, i) => datasets.push({ type: 'line',
    data: [{ x: b.x0, y: b.y0 }, { x: b.x1, y: b.y0 }, { x: b.x1, y: b.y1 }, { x: b.x0, y: b.y1 }, { x: b.x0, y: b.y0 }],
    borderColor: b.color, borderWidth: 12, borderDash: [7, 5], pointRadius: 0, clip: false, order: 4 - i, xAxisID: 'x', yAxisID: 'y' }));
  makeChart(p, datasets, panelScales(p), { ground: '#999999' }, PANEL_PADDING);
}

function colorBar(p, zMin, zMax, labels, marks) {
  const h = p.bottom - p.top, w = p.right - p.left;
  const cells = [], colors = [];
  for (let i = 0; i < 64; i++) {
    cells.push({ x: 0.5, y: [zMin + (zMax - zMin) * i / 64, zMin + (zMax - zMin) * (i + 1) / 64] });
    colors.push(jet((i + 0.5) / 64));
  }
  const scales = {
    x: frameAxis('x', 'bottom', 0, 1, [], PAD.bottom, null, '#333'),
    xTop: frameAxis('x', 'top', 0, 1, [], 0, null, '#333'),
    y: frameAxis('y', 'left', zMin, zMax, [], 0, null, '#333'),
    yRight: frameAxis('y', 'right', zMin, zMax, marks, 0, null, '#333'),
    yText: textAxis('right', zMin, zMax, labels, h, 14, 9, PAD.right)
  };
  const cellSet = { data: cells, backgroundColor: colors, borderWidth: 0, inflateAmount: 1, barThickness: w + 2,
    clip: 0, xAxisID: 'x', yAxisID: 'y' };
  makeChart(p, [cellSet], scales, {}, { top: PAD.top, right: 0, left: PAD.left, bottom: 0 });
}

function text(s, x, y, size, rotated, spacing) {
  const el = document.createElement('div');
  el.className = 'txt' + (rotated ? ' rot' : '');
  el.textContent = s;
  el.style.left = x + 'px';
  el.style.top = y + 'px';
  el.style.fontSize = size + 'px';
  if (spacing) el.style.wordSpacing = spacing + 'px';
  page.appendChild(el);
}

function keyBox(x0, x1, y0, y1, filled) {
  const el = document.createElement('div');
  el.className = 'key';
  el.style.cssText = `left:${x0}px;top:${y0}px;width:${x1 - x0}px;height:${y1 - y0}px;` +
    (filled ? 'background:#a9a6a2;' : `border:5px solid ${INK};`);
  page.appendChild(el);
}

// Panels A, B, C
heatPanel({ left: 356, right: 969, top: 193, bottom: 746, xMin: 0.9, xMax: 12.1, yMin: 0.47, yMax: 12, marks: nremMarks, labels: nremLabels, shift: 3, gap: 2 },
  nremControl, nremFreqs, 0.1, -0.4, 1.4, 9);
heatPanel({ left: 1098, right: 1712, top: 196, bottom: 749, xMin: 0.87, xMax: 12.05, yMin: 0.5, yMax: 12, marks: nremMarks, labels: nremLabels, shift: 2, gap: 5 },
  nremShock, nremFreqs, 0.1, -0.4, 1.4, 9);
colorBar({ left: 1740, right: 1782, top: 196, bottom: 751 }, -0.4, 1.4, nremBarTicks, nremBarMarks);
sigPanel({ left: 2198, right: 2814, top: 175, bottom: 729, xMin: 1.01, xMax: 12.05, yMin: 0.47, yMax: 12.02, marks: nremMarks, labels: nremLabels, shift: -3, gap: 36 }, sigAvsB, [
  { color: '#ff4a10', x0: 0.53, x1: 5.32, y0: 0.44, y1: 5.78 },
  { color: INK, x0: 0.53, x1: 2.59, y0: 0.3, y1: 3.01 },
  { color: '#14f0c0', x0: 0.53, x1: 5.49, y0: 5.83, y1: 12.03 }
]);

// Panels D, E, F
heatPanel({ left: 356, right: 969, top: 910, bottom: 1463, xMin: 0.9, xMax: 12.1, yMin: 4, yMax: 12.03, marks: remMarks, labels: remLabels, shift: 14, gap: 11 },
  remControl, remFreqs, 0.1, -1.6, 1.6, 9, { hr: 7.03, from: 6.2, to: 8 });
heatPanel({ left: 1108, right: 1723, top: 910, bottom: 1463, xMin: 0.86, xMax: 12.16, yMin: 4, yMax: 12.03, marks: remMarks, labels: remLabels, shift: 13, gap: 5 },
  remShock, remFreqs, 0.1, -1.6, 1.6, 9, { hr: 6.81, from: 6.33, to: 7.28 });
colorBar({ left: 1750, right: 1793, top: 910, bottom: 1466 }, -1.62, 1.62, remBarTicks, remBarMarks);
sigPanel({ left: 2198, right: 2828, top: 906, bottom: 1457, xMin: 1, xMax: 12, yMin: 4, yMax: 12, marks: remMarks, labels: remLabels, shift: 12, gap: 30 }, sigDvsE, [
  { color: INK, x0: 0.93, x1: 3.27, y0: 3.9, y1: 12.2 }
]);

// Panels G, H, I
heatPanel({ left: 363, right: 977, top: 1610, bottom: 2164, xMin: 0.885, xMax: 12.1, yMin: 0.5, yMax: 30.1, marks: wakeLabels, labels: wakeLabels, shift: -2, gap: 12 },
  wakeControl, wakeFreqs, 0.01, -0.4, 0.2, 5);
heatPanel({ left: 1110, right: 1725, top: 1611, bottom: 2166, xMin: 0.87, xMax: 12.1, yMin: 0.43, yMax: 30.1, marks: wakeLabels, labels: wakeLabels, shift: -8, gap: 8 },
  wakeShock, wakeFreqs, 0.01, -0.4, 0.2, 5);
colorBar({ left: 1752, right: 1793, top: 1611, bottom: 2166 }, -0.4, 0.2, wakeBarTicks, wakeBarMarks);
sigPanel({ left: 2203, right: 2821, top: 1612, bottom: 2165, xMin: 1, xMax: 12.03, yMin: 0.1, yMax: 30.3, marks: wakeLabels, labels: wakeLabels, shift: -4, gap: 32 }, sigFvsG, [
  { color: INK, x0: 0.85, x1: 3.18, y0: 24.4, y1: 30.7 }
]);

// Panel letters and headings
[['A.', 100, 68], ['B.', 1062, 68], ['C.', 2120, 68], ['D.', 103, 821], ['E.', 1062, 821], ['F.', 2114, 821],
 ['G.', 104, 1526], ['H.', 1062, 1526], ['I.', 2107, 1522]].forEach(t => text(t[0], t[1], t[2], 60));
text('Control', 690, 83, 63);
text('Footshock', 1373, 83, 63);
text('Significance A vs B', 2537, 127, 63.5);
text('Significance D vs E', 2563, 872, 63.5);
text('Significance F vs G', 2557, 1577, 63.5);

text('NREM', 107, 404, 94, true);
text('REM', 101, 1144, 92, true);
text('WAKE', 102, 1849, 94, true);

text('Frequency (Hz)', 251, 440, 63, true);
text('Frequency (Hz)', 250, 1130, 63, true);
text('Frequency (Hz)', 247, 1845, 63, true);

text('Z-scored Power', 1911, 434, 63, true);
text('Z-scored Power', 1943, 1146, 63, true);
text('Z-scored Power', 1940, 1810, 63, true);

text('Hr', 690, 2253, 62);
text('Hr', 1437, 2243, 62);
text('Hr', 2534, 2249, 62);

// p-value keys
keyBox(2902, 2941, 308, 418, true);
keyBox(2902, 2941, 524, 637, false);
text('p > 0.05', 2990, 320, 60, true, 5);
text('p < 0.05', 2996, 593, 60, true, 5);
keyBox(2892, 2929, 997, 1107, true);
keyBox(2891, 2933, 1210, 1325, false);
text('p > 0.05', 2979, 1009, 60, true, 5);
text('p < 0.05', 2988, 1280, 60, true, 5);
keyBox(2931, 2969, 1723, 1834, true);
keyBox(2929, 2970, 1938, 2054, false);
text('p > 0.05', 3018, 1737, 60, true, 5);
text('p < 0.05', 3027, 2007, 60, true, 5);
</script>
</body>
</html>
